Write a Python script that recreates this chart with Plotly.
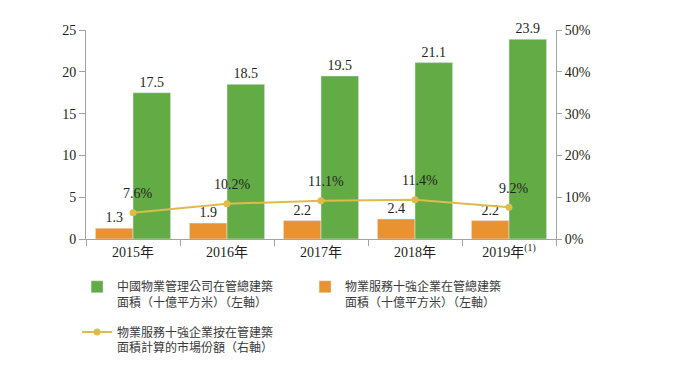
import plotly.graph_objects as go

years = ["2015年", "2016年", "2017年", "2018年", "2019年<sup>(1)</sup>"]
china_gfa = [17.5, 18.5, 19.5, 21.1, 23.9]
top10_gfa = [1.3, 1.9, 2.2, 2.4, 2.2]
top10_share = [7.6, 10.2, 11.1, 11.4, 9.2]
share_labels = ["7.6%", "10.2%", "11.1%", "11.4%", "9.2%"]

GREEN = "#63AB45"
ORANGE = "#E99231"
GOLD = "#DDBC4B"
AXIS = "#A3A3A3"
TXT = "#231F20"
SERIF = "Liberation Serif, Times New Roman, Noto Sans CJK TC, serif"
CJK = "Noto Sans CJK TC, sans-serif"

fig = go.Figure()
fig.add_trace(go.Bar(
    x=years, y=top10_gfa, name="物業服務十強企業在管總建築<br>面積（十億平方米）（左軸）",
    marker_color=ORANGE, text=[f"{v:.1f}" for v in top10_gfa], textposition="outside",
    textfont=dict(family=SERIF, size=14, color=TXT), cliponaxis=False, legendrank=2,
))
fig.add_trace(go.Bar(
    x=years, y=china_gfa, name="中國物業管理公司在管總建築<br>面積（十億平方米）（左軸）",
    marker_color=GREEN, text=[f"{v:.1f}" for v in china_gfa], textposition="outside",
    textfont=dict(family=SERIF, size=14, color=TXT), cliponaxis=False, legendrank=1,
))
fig.add_trace(go.Scatter(
    x=years, y=top10_share, yaxis="y3", mode="lines+markers",
    name="物業服務十強企業按在管建築<br>面積計算的市場份額（右軸）",
    line=dict(color=GOLD, width=2), marker=dict(color=GOLD, size=7), legend="legend2",
))
# invisible trace to activate right axis
fig.add_trace(go.Scatter(x=years, y=[0]*5, yaxis="y2", mode="markers",
                         marker=dict(opacity=0), showlegend=False, hoverinfo="skip"))

for x, yv, lab in zip(years, top10_share, share_labels):
    fig.add_annotation(x=x, y=yv, yref="y3", text=lab, showarrow=False,
                       yshift=19, xshift=5, font=dict(family=SERIF, size=14, color=TXT))

legend_common = dict(orientation="h", x=-0.019, xanchor="left", yanchor="top",
                     valign="top", traceorder="normal",
                     font=dict(family=CJK, size=12, color="#3a3a3a"),
                     tracegroupgap=0, itemwidth=30, bgcolor="rgba(0,0,0,0)")

fig.update_layout(
    width=670, height=358,
    margin=dict(l=78, r=122, t=22, b=127, autoexpand=False),
    paper_bgcolor="white", plot_bgcolor="white",
    barmode="group", bargap=0.2, bargroupgap=0,
    font=dict(family=SERIF, size=14, color=TXT),
    xaxis=dict(type="category", showline=True, linecolor=AXIS, linewidth=1,
               ticks="outside", tickson="boundaries", ticklen=6, tickcolor=AXIS,
               showgrid=False, tickfont=dict(family=SERIF, size=14, color=TXT)),
    yaxis=dict(range=[0, 25], dtick=5, showline=True, linecolor=AXIS, ticks="outside",
               ticklen=6, tickcolor=AXIS, showgrid=False, zeroline=False,
               tickfont=dict(family=SERIF, size=14, color=TXT)),
    yaxis2=dict(range=[0, 50], dtick=10, ticksuffix="%", overlaying="y", side="right",
                showline=True, linecolor=AXIS, ticks="outside", ticklen=5, tickcolor=AXIS,
                showgrid=False, zeroline=False, tickfont=dict(family=SERIF, size=14, color=TXT)),
    # the source draws the share line at ~0.825x its labelled value on the right axis
    yaxis3=dict(range=[0, 60.6], overlaying="y", visible=False),
    legend=dict(y=-0.160, entrywidth=183, entrywidthmode="pixels", **legend_common),
    legend2=dict(y=-0.376, **legend_common),
    showlegend=True,
)

fig.write_html("out.html")
